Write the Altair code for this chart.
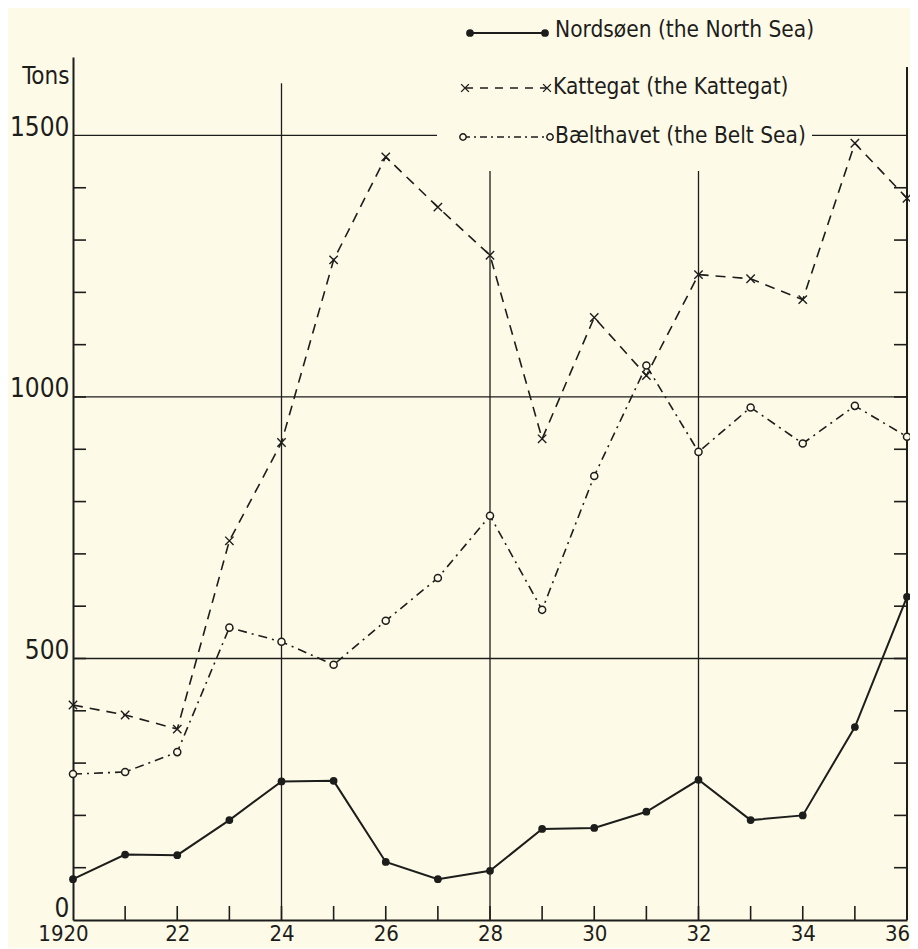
import json
import altair as alt
import pandas as pd

# ---------------- data ----------------
years = list(range(1920, 1937))
nordsoen = [78, 125, 124, 191, 265, 266, 111, 78, 94, 174, 176, 207, 268, 191, 200, 369, 618]
kattegat = [411, 392, 365, 725, 913, 1262, 1459, 1363, 1271, 920, 1152, 1041, 1234, 1226, 1186, 1485, 1380]
baelthavet = [279, 283, 321, 559, 532, 488, 572, 654, 773, 593, 849, 1060, 895, 980, 911, 983, 924]

series_labels = ["Nordsøen (the North Sea)", "Kattegat (the Kattegat)", "Bælthavet (the Belt Sea)"]
y_title = "Tons"

x_tick_values = [1920, 1922, 1924, 1926, 1928, 1930, 1932, 1934, 1936]
x_tick_labels = ["1920", "22", "24", "26", "28", "30", "32", "34", "36"]
y_tick_values = [0, 500, 1000, 1500]
y_tick_labels = ["0", "500", "1000", "1500"]

minor_y = list(range(100, 1500, 100))
minor_x = list(range(1921, 1936))
hgrid_values = [500, 1000, 1500]
vgrid_years = [1924, 1928, 1932]
vgrid_tops = [1600, 1432, 1432]
right_border_top = [1631]

# ---------------- style ----------------
INK = "#1d1d1b"
BG = "#fdfbe8"
FONT = "DejaVu Sans Condensed, Liberation Sans, sans-serif"
W, H = 834, 863

xs = alt.Scale(domain=[1920, 1936], nice=False, zero=False)
ys = alt.Scale(domain=[0, 1650], nice=False, zero=True)

x_label_expr = f"{json.dumps(x_tick_labels)}[indexof({json.dumps(x_tick_values)}, datum.value)]"
y_label_expr = f"{json.dumps(y_tick_labels)}[indexof({json.dumps(y_tick_values)}, datum.value)]"

xaxis = alt.Axis(values=x_tick_values, labelExpr=x_label_expr, title=None, ticks=False,
                 grid=False, domain=True, domainColor=INK, domainWidth=2,
                 labelFont=FONT, labelFontSize=22, labelColor=INK, labelPadding=3,
                 labelOffset={"condition": {"test": "datum.value == 1920 || datum.value == 1936",
                                            "value": -10}, "value": 0},
                 labelBaseline="top", labelFlush=False, labelOverlap=False, labelBound=False)
yaxis = alt.Axis(values=y_tick_values, labelExpr=y_label_expr, title=y_title, titleAngle=0,
                 titleX=-4, titleY=26, titleAlign="right", titleBaseline="alphabetic",
                 titleFont=FONT, titleFontSize=24, titleFontWeight="normal", titleColor=INK,
                 ticks=False, grid=False, domain=True, domainColor=INK, domainWidth=2,
                 labelFont=FONT, labelFontSize=26, labelColor=INK, labelPadding=4,
                 labelOffset={"condition": {"test": "datum.value == 0", "value": -4}, "value": 0},
                 labelBaseline="alphabetic", labelFlush=False, labelOverlap=False)


def X(field):
    return alt.X(f"{field}:Q", scale=xs, axis=xaxis)


def Y(field):
    return alt.Y(f"{field}:Q", scale=ys, axis=yaxis)


df_n = pd.DataFrame({"year": years, "value": nordsoen})
df_k = pd.DataFrame({"year": years, "value": kattegat})
df_b = pd.DataFrame({"year": years, "value": baelthavet})

layers = []

# horizontal grid lines
layers.append(alt.Chart(pd.DataFrame({"value": hgrid_values})).mark_rule(color=INK, strokeWidth=1.3)
              .encode(y=Y("value"), x=alt.value(0), x2=alt.value(W)))
# vertical grid lines
layers.append(alt.Chart(pd.DataFrame({"year": vgrid_years, "value": vgrid_tops})).mark_rule(color=INK, strokeWidth=1.3)
              .encode(x=X("year"), y=Y("value"), y2=alt.value(H)))
# right border
layers.append(alt.Chart(pd.DataFrame({"value": right_border_top})).mark_rule(color=INK, strokeWidth=2)
              .encode(x=alt.value(W), y=Y("value"), y2=alt.value(H)))
# minor ticks left / right / bottom
df_my = pd.DataFrame({"value": minor_y})
layers.append(alt.Chart(df_my).mark_rule(color=INK, strokeWidth=1.6)
              .encode(y=Y("value"), x=alt.value(0), x2=alt.value(13)))
layers.append(alt.Chart(df_my).mark_rule(color=INK, strokeWidth=1.6)
              .encode(y=Y("value"), x=alt.value(W - 13), x2=alt.value(W)))
layers.append(alt.Chart(pd.DataFrame({"year": minor_x})).mark_rule(color=INK, strokeWidth=1.6)
              .encode(x=X("year"), y=alt.value(H - 14), y2=alt.value(H)))

# cover behind the legend's third row (the 1500 line is interrupted there)
layers.append(alt.Chart(pd.DataFrame({"a": [0]})).mark_rect(color=BG, opacity=1)
              .encode(x=alt.value(364), x2=alt.value(739), y=alt.value(70), y2=alt.value(88)))

# ---------------- legend (hand drawn like the original) ----------------
one = pd.DataFrame({"a": [0]})
legend_rows = [
    # (y line, x0, x1, text x, text baseline y)
    (-24, 397, 472, 482, -20),
    (31, 392, 474, 480, 37),
    (80, 390, 477, 482, 86),
]
dashes = [None, [8, 7], [7, 4, 2, 4]]
for i, (ly, x0, x1, tx, ty) in enumerate(legend_rows):
    kw = dict(color=INK, strokeWidth=2 if i == 0 else 1.5)
    if dashes[i]:
        kw["strokeDash"] = dashes[i]
    layers.append(alt.Chart(one).mark_rule(**kw)
                  .encode(x=alt.value(x0), x2=alt.value(x1), y=alt.value(ly)))
    for xx in (x0, x1):
        if i == 0:
            m = alt.Chart(one).mark_circle(size=60, color=INK, opacity=1)
        elif i == 1:
            m = alt.Chart(one).mark_point(shape="M-1,-1L1,1M-1,1L1,-1", size=60, stroke=INK,
                                          strokeWidth=1.4, filled=False, opacity=1)
        else:
            m = alt.Chart(one).mark_circle(size=40, fill=BG, stroke=INK, strokeWidth=1.5, opacity=1)
        layers.append(m.encode(x=alt.value(xx), y=alt.value(ly)))
    layers.append(alt.Chart(one).mark_text(align="left", baseline="alphabetic", font=FONT,
                                           fontSize=22.5, color=INK)
                  .encode(x=alt.value(tx), y=alt.value(ty), text=alt.value(series_labels[i])))

# ---------------- data series ----------------
layers.append(alt.Chart(df_k).mark_line(color=INK, strokeWidth=1.6, strokeDash=[10, 7])
              .encode(x=X("year"), y=Y("value")))
layers.append(alt.Chart(df_b).mark_line(color=INK, strokeWidth=1.6, strokeDash=[9, 5, 2, 5])
              .encode(x=X("year"), y=Y("value")))
layers.append(alt.Chart(df_n).mark_line(color=INK, strokeWidth=2)
              .encode(x=X("year"), y=Y("value")))

layers.append(alt.Chart(df_k).mark_point(shape="M-1,-1L1,1M-1,1L1,-1", size=70, stroke=INK,
                                         strokeWidth=1.4, filled=False, opacity=1)
              .encode(x=X("year"), y=Y("value")))
layers.append(alt.Chart(df_b).mark_circle(size=50, fill=BG, stroke=INK, strokeWidth=1.5, opacity=1)
              .encode(x=X("year"), y=Y("value")))
layers.append(alt.Chart(df_n).mark_circle(size=60, color=INK, opacity=1)
              .encode(x=X("year"), y=Y("value")))

chart = (alt.layer(*layers)
         .properties(width=W, height=H, background=BG, autosize="none",
                     padding={"left": 65, "top": 49, "right": 3, "bottom": 28})
         .configure_view(stroke=None))

chart.save("out.html", embed_options={"renderer": "svg", "actions": False})
